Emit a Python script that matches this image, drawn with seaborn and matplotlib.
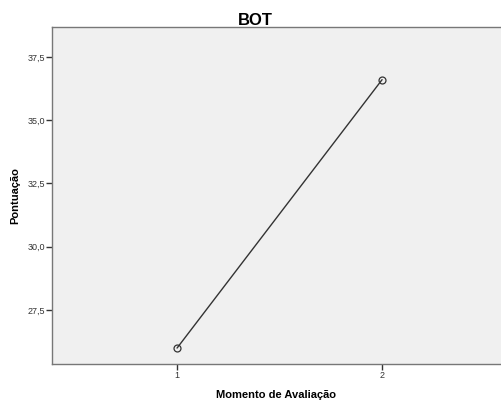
import matplotlib
matplotlib.use('Agg')
import matplotlib.pyplot as plt
import matplotlib.ticker as mticker
import seaborn as sns
import pandas as pd

# ====== DATA
momento = [1, 2]
pontuacao = [26.0, 36.6]
y_ticks = [27.5, 30.0, 32.5, 35.0, 37.5]

df = pd.DataFrame({'momento': momento, 'pontuacao': pontuacao})

sns.set_style('white')
plt.rcParams['font.family'] = ['Arial', 'Liberation Sans', 'DejaVu Sans']

fig = plt.figure(figsize=(5.01, 4.03), dpi=100)
ax = fig.add_axes([52 / 501, 39 / 403, 449 / 501, 337 / 403])
ax.set_facecolor('#f0f0f0')

sns.lineplot(data=df, x='momento', y='pontuacao', ax=ax, color='#333333',
             linewidth=1, marker='o', markersize=5, markerfacecolor='none',
             markeredgecolor='#333333', markeredgewidth=0.9)

ax.set_xlim(0.39, 2.58)
ax.set_ylim(25.37, 38.68)
ax.set_xticks(momento)
ax.set_yticks(y_ticks)
ax.yaxis.set_major_formatter(mticker.FuncFormatter(lambda v, p: f'{v:.1f}'.replace('.', ',')))
ax.tick_params(axis='both', which='major', direction='out', length=4, width=1,
               color='#333333', labelsize=6.5, labelcolor='#333333', pad=1,
               left=True, bottom=True)

for side in ['left', 'top', 'bottom']:
    ax.spines[side].set_color('#777777')
    ax.spines[side].set_linewidth(1)
ax.spines['right'].set_visible(False)

ax.set_xlabel('Momento de Avaliação', fontsize=8, fontweight='bold', labelpad=7, color='black')
ax.set_ylabel('Pontuação', fontsize=8, fontweight='bold', labelpad=5, color='black')
fig.text(0.51, 0.937, 'BOT', ha='center', va='baseline', fontsize=12,
         fontweight='bold', color='black')

fig.savefig('out.png', dpi=100)
plt.close()
